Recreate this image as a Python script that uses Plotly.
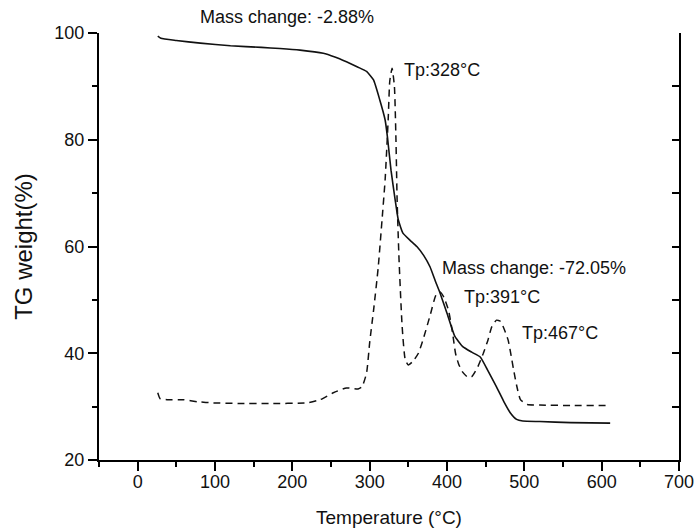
import plotly.graph_objects as go

# TG curve (solid)
tg_temp = [26, 30, 50, 81, 120, 160, 184, 210, 240, 255, 270, 285, 296, 305, 313, 320, 323,
           327.6, 333, 337, 343, 352, 361, 370, 378, 385, 391, 400, 410, 420, 432, 443,
           452, 464, 474, 482, 490, 498, 520, 560, 611]
tg_weight = [99.4, 99.0, 98.6, 98.1, 97.6, 97.3, 97.1, 96.8, 96.2, 95.5, 94.6, 93.6, 92.8,
             91.2, 87.5, 83.7, 80.5, 74.3, 68.7, 65.0, 62.5, 61.2, 60.0, 58.3, 56.2, 53.5, 51.3,
             47.5, 43.2, 41.3, 40.2, 39.3, 37.0, 33.7, 30.8, 28.8, 27.6, 27.3, 27.2, 27.0, 26.9]

# DTG curve (dashed, scaled onto the same axis)
dtg_temp = [26, 29, 38, 59, 78, 98, 130, 170, 219, 236, 253, 270, 285, 290, 296,
            300, 305, 311, 316, 320, 324, 326, 329, 332, 334, 335.5, 338, 342, 346, 350,
            356, 363, 370, 378, 386, 391, 396, 402, 407, 411, 415, 420, 427, 432, 440, 447,
            453, 458, 464, 469, 474, 479, 483, 486, 490, 495, 504, 520, 560, 611]
dtg_value = [32.6, 31.5, 31.3, 31.3, 30.9, 30.7, 30.6, 30.6, 30.7, 31.3, 32.6, 33.5, 33.3,
             33.7, 36.3, 42.0, 48.0, 56.0, 65.0, 72.5, 84.0, 91.0, 93.4, 90.0,
             80.0, 68.7, 57.5, 45.0, 38.8, 37.8, 38.5, 40.0, 43.0, 47.0, 51.0, 51.5, 50.5,
             48.0, 44.0, 40.0, 38.0, 36.5, 35.5, 35.6, 37.5, 40.0, 42.5, 45.0, 46.2, 46.0,
             44.5, 42.5, 39.5, 37.0, 34.0, 31.3, 30.4, 30.3, 30.2, 30.2]

x_ticks = [0, 100, 200, 300, 400, 500, 600, 700]
y_ticks = [20, 40, 60, 80, 100]

ann_texts = ["Mass change: -2.88%", "Tp:328°C", "Mass change: -72.05%", "Tp:391°C", "Tp:467°C"]
ann_x = [78, 342, 391, 419, 494]
ann_y = [103, 93, 56, 50.6, 43.8]

FONT = "Liberation Sans, Arial, sans-serif"

fig = go.Figure()
fig.add_trace(go.Scatter(x=tg_temp, y=tg_weight, mode="lines",
                         line=dict(color="#111111", width=1.6, shape="spline", smoothing=0.4),
                         showlegend=False, hoverinfo="skip"))
fig.add_trace(go.Scatter(x=dtg_temp, y=dtg_value, mode="lines", yaxis="y2",
                         line=dict(color="#111111", width=1.5, dash="7px,5px", shape="spline", smoothing=0.5),
                         showlegend=False, hoverinfo="skip"))

Y_RANGE = [20, 100]
for t, xx, yy in zip(ann_texts, ann_x, ann_y):
    if yy > Y_RANGE[1]:
        # label above the plot area: place in paper coordinates
        fig.add_annotation(x=xx, y=1 + (yy - Y_RANGE[1]) / (Y_RANGE[1] - Y_RANGE[0]),
                           xref="x", yref="paper", text=t, showarrow=False,
                           xanchor="left", yanchor="middle",
                           font=dict(family=FONT, size=18, color="#111111"))
    else:
        fig.add_annotation(x=xx, y=yy, text=t, showarrow=False, xanchor="left", yanchor="middle",
                           font=dict(family=FONT, size=18, color="#111111"))

axis_common = dict(showgrid=False, zeroline=False, linecolor="#000000", linewidth=2,
                   tickcolor="#000000", tickwidth=2, automargin=False)

fig.update_layout(
    width=698, height=530,
    margin=dict(l=99, r=19, t=33, b=70),
    paper_bgcolor="white", plot_bgcolor="white",
    font=dict(family=FONT, color="#111111"),
    xaxis=dict(range=[-50, 700], tickvals=x_ticks, ticks="outside", ticklen=9,
               showline=True, tickfont=dict(size=18, color="#111111"), ticklabelstandoff=-5,
               minor=dict(ticks="outside", ticklen=5, dtick=50, tick0=0, tickcolor="#000000", tickwidth=2),
               title=dict(text="Temperature (°C)", font=dict(size=19, color="#111111"), standoff=20),
               **axis_common),
    yaxis=dict(range=Y_RANGE, tickvals=y_ticks, ticks="outside", ticklen=9,
               showline=True, tickfont=dict(size=18, color="#111111"),
               minor=dict(ticks="outside", ticklen=5, dtick=10, tick0=0, tickcolor="#000000", tickwidth=2),
               title=dict(text="TG weight(%)", font=dict(size=24, color="#111111"), standoff=15),
               **axis_common),
    yaxis2=dict(range=Y_RANGE, overlaying="y", side="right", tickvals=y_ticks,
                ticks="inside", ticklen=7, showticklabels=False, showline=True,
                minor=dict(ticks="inside", ticklen=7, dtick=10, tick0=0, tickcolor="#000000", tickwidth=2),
                **axis_common),
)

fig.write_html("out.html", config={"displayModeBar": False},
               post_script="document.body.style.margin='0';")
